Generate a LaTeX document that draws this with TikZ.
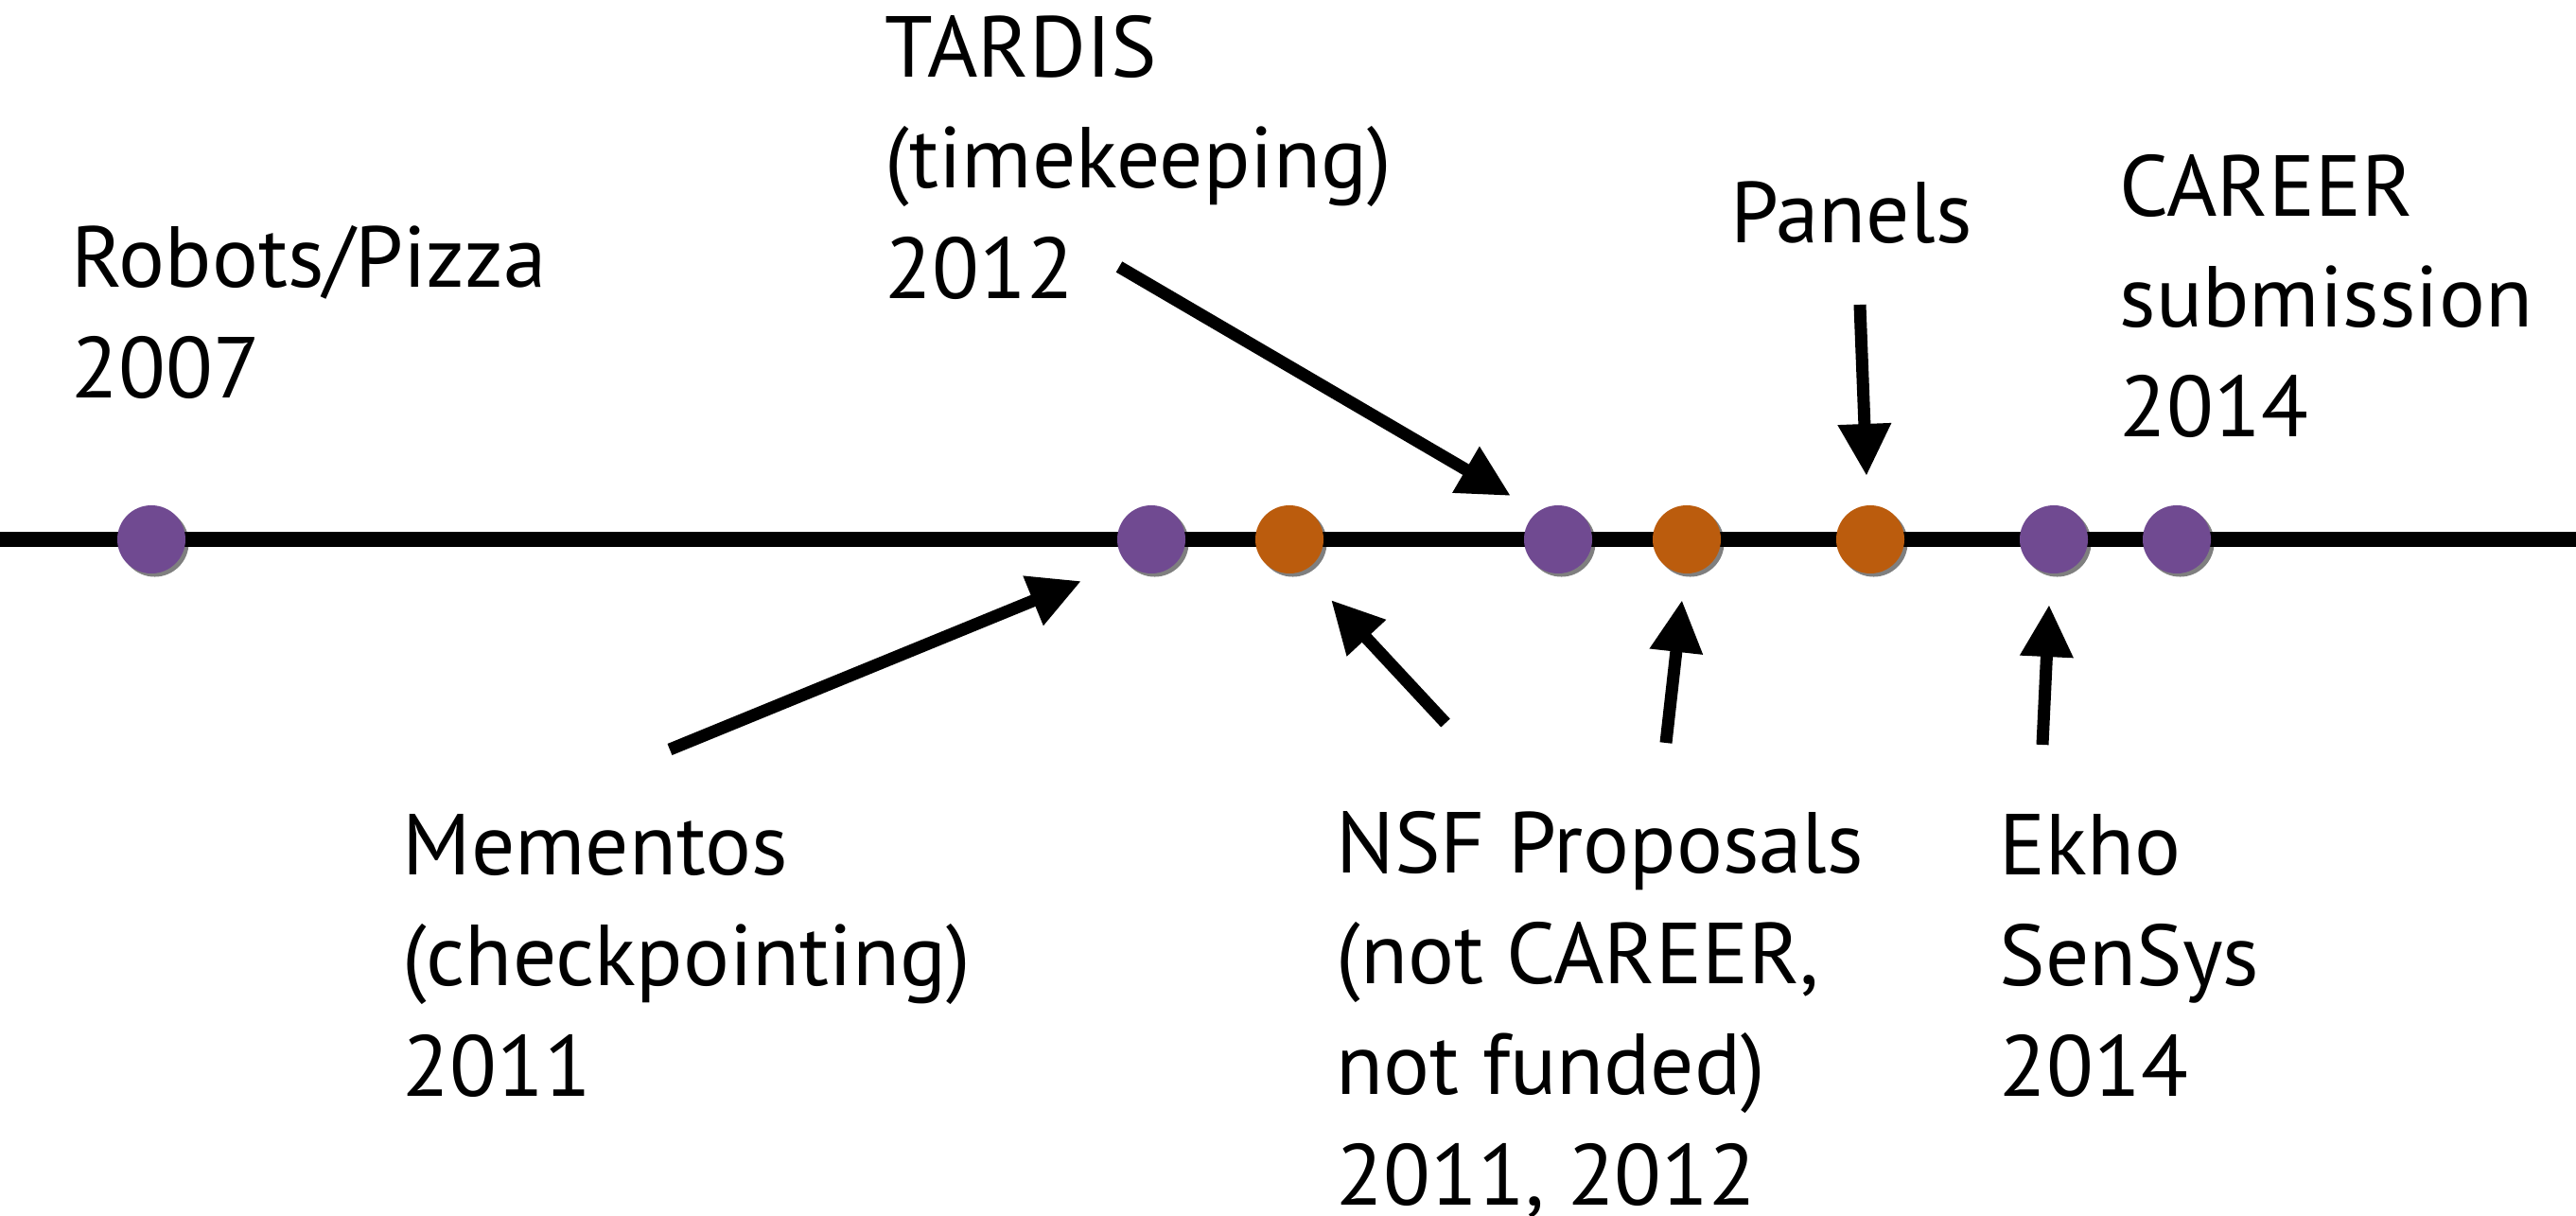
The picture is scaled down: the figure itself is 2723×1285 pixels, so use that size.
\documentclass[tikz,border=0pt]{standalone}
\usepackage{fontspec}
\setmainfont{PT Sans}
\usetikzlibrary{arrows.meta,shadows}
\definecolor{dotpurple}{HTML}{704A91}
\definecolor{dotorange}{HTML}{BB5C0D}
\tikzset{
  lbl/.style={anchor=base west, inner sep=0pt, align=left, font=\fontsize{26}{33.2}\selectfont},
  dot/.style={circle, minimum size=0.72cm, inner sep=0pt, draw=none,
    drop shadow={shadow xshift=0.035cm, shadow yshift=-0.035cm, opacity=0.5, fill=black}},
  pdot/.style={dot, fill=dotpurple},
  odot/.style={dot, fill=dotorange},
  arr/.style={line width=0.13cm, -{Triangle[length=0.55cm, width=0.53cm]}},
  axis/.style={line width=0.16cm}
}
\begin{document}
\begin{tikzpicture}[x=0.01cm, y=-0.01cm]
\useasboundingbox (0,0) rectangle (2723,1285);
% timeline
\coordinate (L) at (0,570);
\coordinate (R) at (2723,570);
\draw[axis] (L) -- (R);
% dots
\node[pdot] (d1) at (160,570) {};
\node[pdot] (d2) at (1217,570) {};
\node[odot] (d3) at (1363,570) {};
\node[pdot] (d4) at (1647,570) {};
\node[odot] (d5) at (1783,570) {};
\node[odot] (d6) at (1977,570) {};
\node[pdot] (d7) at (2171,570) {};
\node[pdot] (d8) at (2301,570) {};
% labels (anchored at the baseline of the last line)
\node[lbl] (robots) at (75,420) {Robots/Pizza\\2007};
\node[lbl] (tardis) at (935,315) {TARDIS\\(timekeeping)\\2012};
\node[lbl] (panels) at (1829,257) {Panels};
\node[lbl] (career) at (2240,462) {CAREER\\submission\\2014};
\node[lbl] (mementos) at (425,1158) {Mementos\\(checkpointing)\\2011};
\node[lbl] (nsf) at (1412,1273) {NSF Proposals\\(not CAREER,\\not funded)\\2011, 2012};
\node[lbl] (ekho) at (2113,1158) {Ekho\\SenSys\\2014};
% arrow ends
\coordinate (tA) at (1183,282); \coordinate (hA) at (1597,524);
\coordinate (tB) at (1966,322); \coordinate (hB) at (1973,503);
\coordinate (tC) at (708,792);  \coordinate (hC) at (1143,614);
\coordinate (tD) at (1528,764); \coordinate (hD) at (1407,634);
\coordinate (tE) at (1761,785); \coordinate (hE) at (1778,634);
\coordinate (tF) at (2159,787); \coordinate (hF) at (2166,639);
\draw[arr] (tA) -- (hA);
\draw[arr] (tB) -- (hB);
\draw[arr] (tC) -- (hC);
\draw[arr] (tD) -- (hD);
\draw[arr] (tE) -- (hE);
\draw[arr] (tF) -- (hF);
\end{tikzpicture}
\end{document}
